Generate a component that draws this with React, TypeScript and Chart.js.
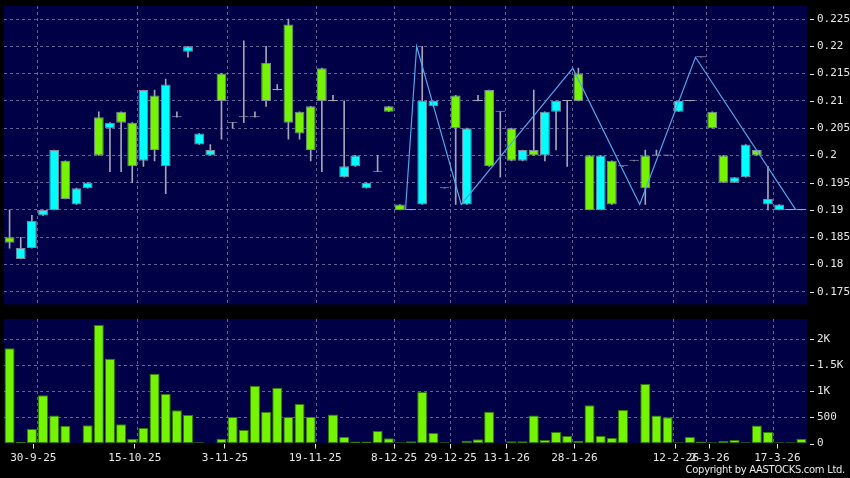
import React, { useEffect, useRef } from 'react';
import { Chart, registerables } from 'chart.js';
Chart.register(...registerables);

// ---- data ----
const openP = [
  0.184, 0.183, 0.188, 0.19, 0.201, 0.192, 0.194, 0.195, 0.2, 0.206,
  0.206, 0.198, 0.212, 0.201, 0.213, 0.207, 0.22, 0.204, 0.201, 0.21,
  0.206, 0.207, 0.207, 0.21, 0.212, 0.206, 0.204, 0.201, 0.21, 0.21,
  0.198, 0.2, 0.195, 0.197, 0.208, 0.19, 0.19, 0.21, 0.21, 0.194,
  0.205, 0.205, 0.21, 0.198, 0.208, 0.199, 0.201, 0.2, 0.208, 0.21,
  0.21, 0.21, 0.19, 0.2, 0.191, 0.198, 0.199, 0.194, 0.2, 0.2,
  0.21, 0.21, 0.218, 0.205, 0.195, 0.196, 0.202, 0.2, 0.192, 0.191,
  0.19, 0.19,
];
const closeP = [
  0.185, 0.181, 0.183, 0.189, 0.19, 0.199, 0.191, 0.194, 0.207, 0.205,
  0.208, 0.206, 0.199, 0.211, 0.198, 0.207, 0.219, 0.202, 0.2, 0.215,
  0.206, 0.207, 0.207, 0.217, 0.212, 0.224, 0.208, 0.209, 0.216, 0.21,
  0.196, 0.198, 0.194, 0.197, 0.209, 0.191, 0.19, 0.191, 0.209, 0.194,
  0.211, 0.191, 0.21, 0.212, 0.208, 0.205, 0.199, 0.201, 0.2, 0.208,
  0.21, 0.215, 0.2, 0.19, 0.199, 0.198, 0.199, 0.2, 0.2, 0.2,
  0.208, 0.21, 0.218, 0.208, 0.2, 0.195, 0.196, 0.201, 0.191, 0.19,
  0.19, 0.19,
];
const highP = [
  0.19, 0.185, 0.189, 0.19, 0.201, 0.199, 0.194, 0.195, 0.208, 0.206,
  0.208, 0.206, 0.212, 0.212, 0.214, 0.208, 0.22, 0.204, 0.202, 0.215,
  0.206, 0.221, 0.208, 0.22, 0.213, 0.225, 0.208, 0.209, 0.216, 0.211,
  0.21, 0.2, 0.195, 0.2, 0.209, 0.191, 0.19, 0.22, 0.21, 0.194,
  0.211, 0.205, 0.211, 0.212, 0.208, 0.205, 0.201, 0.212, 0.208, 0.21,
  0.21, 0.216, 0.2, 0.2, 0.199, 0.198, 0.199, 0.201, 0.201, 0.2,
  0.21, 0.21, 0.218, 0.208, 0.2, 0.196, 0.202, 0.201, 0.198, 0.191,
  0.19, 0.19,
];
const lowP = [
  0.183, 0.181, 0.183, 0.189, 0.19, 0.192, 0.191, 0.194, 0.2, 0.197,
  0.197, 0.195, 0.198, 0.199, 0.193, 0.207, 0.218, 0.202, 0.2, 0.203,
  0.205, 0.206, 0.207, 0.209, 0.212, 0.203, 0.203, 0.199, 0.197, 0.21,
  0.196, 0.198, 0.194, 0.197, 0.208, 0.19, 0.19, 0.191, 0.209, 0.194,
  0.191, 0.191, 0.21, 0.198, 0.196, 0.199, 0.199, 0.2, 0.199, 0.201,
  0.198, 0.21, 0.19, 0.19, 0.191, 0.198, 0.199, 0.191, 0.2, 0.2,
  0.208, 0.21, 0.218, 0.205, 0.195, 0.195, 0.196, 0.2, 0.19, 0.19,
  0.19, 0.19,
];
const volume = [
  1830, 30, 280, 930, 540, 340, 0, 350, 2280, 1630,
  370, 90, 300, 1340, 950, 640, 550, 25, 0, 90,
  510, 260, 1110, 610, 1070, 510, 760, 515, 0, 560,
  130, 40, 40, 240, 100, 25, 45, 990, 200, 25,
  0, 55, 80, 610, 0, 45, 45, 540, 65, 220,
  145, 55, 735, 145, 105, 645, 0, 1145, 540, 505,
  25, 125, 40, 25, 50, 65, 25, 345, 220, 25,
  25, 90,
];
const zigzagIdx = [36, 37, 41, 51, 57, 62, 71];
const zigzagVal = [0.19, 0.22, 0.191, 0.216, 0.191, 0.218, 0.19];
const xTickIdx = [3, 12, 20, 28, 35, 40, 45, 51, 60, 63, 69];
const xTickLabels = ['30-9-25', '15-10-25', '3-11-25', '19-11-25', '8-12-25', '29-12-25', '13-1-26', '28-1-26', '12-2-26', '2-3-26', '17-3-26'];
const priceTicks = [0.175, 0.18, 0.185, 0.19, 0.195, 0.2, 0.205, 0.21, 0.215, 0.22, 0.225];
const volTicks = [0, 500, 1000, 1500, 2000];
const volTickLabels = ['0', '500', '1K', '1.5K', '2K'];

// ---- styles ----
const GREEN = '#74f400';
const CYAN = '#00ffff';
const DOJI = '#a4a4b8';
const BODY_BORDER = '#7d8c9a';
const NAVY = '#000046';
const GRID = 'rgba(125,125,180,0.75)';
const LINE = '#4ea6e6';
const TEXT = '#e6e6e6';
const FONT = { family: "'DejaVu Sans Mono', monospace", size: 11, lineHeight: 1 };

const N = closeP.length;
const idx = closeP.map((_, i) => i);
const edge = (i: number) => i - 0.5;

const panelBg = {
  id: 'panelBg',
  beforeDraw(chart: any) {
    const { ctx, chartArea: a } = chart;
    ctx.save();
    ctx.fillStyle = NAVY;
    ctx.fillRect(a.left, a.top, a.right - a.left, a.bottom - a.top);
    ctx.restore();
  },
};
const rightTicks = {
  id: 'rightTicks',
  afterDraw(chart: any) {
    const s = chart.scales.y;
    const { ctx, chartArea: a } = chart;
    ctx.save();
    ctx.strokeStyle = TEXT;
    ctx.lineWidth = 1;
    s.ticks.forEach((t: any) => {
      const y = Math.round(s.getPixelForValue(t.value)) + 0.5;
      ctx.beginPath();
      ctx.moveTo(a.right + 3, y);
      ctx.lineTo(a.right + 7, y);
      ctx.stroke();
    });
    ctx.restore();
  },
};

const gridX = () => ({
  type: 'linear',
  offset: false,
  min: -0.5,
  max: N - 0.5,
  afterBuildTicks: (s: any) => { s.ticks = xTickIdx.map((i) => ({ value: edge(i) })); },
  afterFit: (s: any) => { s.height = 0; },
  grid: { color: GRID, lineWidth: 1, drawTicks: false, offset: false },
  border: { display: false, dash: [3, 3] },
  ticks: { display: false },
});

const rightAxis = (min: number, max: number, values: number[], label: (v: number, i: number) => string, gridColor: any) => ({
  position: 'right',
  min,
  max,
  afterBuildTicks: (s: any) => { s.ticks = values.map((v) => ({ value: v })); },
  afterFit: (s: any) => { s.width = 43; },
  grid: { color: gridColor, drawTicks: true, tickLength: 10, tickColor: 'rgba(0,0,0,0)' },
  border: { display: false, dash: [3, 3] },
  ticks: { color: TEXT, font: FONT, padding: 0, callback: (v: any, i: number) => label(v, i) },
});

export default function App() {
  const priceRef = useRef<HTMLCanvasElement>(null);
  const volRef = useRef<HTMLCanvasElement>(null);

  useEffect(() => {
    const bodyColors = idx.map((i) => (closeP[i] > openP[i] ? GREEN : closeP[i] < openP[i] ? CYAN : DOJI));
    const bodyBorders = idx.map((i) => (closeP[i] === openP[i] ? DOJI : BODY_BORDER));

    const price = new Chart(priceRef.current as HTMLCanvasElement, {
      type: 'bar',
      data: {
        datasets: [
          {
            type: 'line',
            data: zigzagIdx.map((i, k) => ({ x: edge(i), y: zigzagVal[k] })),
            borderColor: LINE,
            borderWidth: 1.2,
            pointRadius: 0,
            tension: 0,
            order: 0,
            xAxisID: 'x',
            yAxisID: 'y',
          },
          {
            type: 'bar',
            data: idx.map((i) => ({ x: i, y: [openP[i], closeP[i]] })),
            backgroundColor: bodyColors,
            borderColor: bodyBorders,
            borderWidth: 1,
            borderSkipped: false,
            minBarLength: 1,
            grouped: false,
            barPercentage: 0.88,
            categoryPercentage: 1,
            order: 1,
            xAxisID: 'x',
            yAxisID: 'y',
          },
          {
            type: 'bar',
            data: idx.map((i) => ({ x: i, y: [lowP[i], highP[i]] })),
            backgroundColor: DOJI,
            borderWidth: 0,
            barThickness: 1,
            grouped: false,
            order: 2,
            xAxisID: 'x',
            yAxisID: 'y',
          },
        ] as any,
      },
      options: {
        animation: false,
        responsive: false,
        events: [],
        layout: { padding: { left: 4, top: 6, bottom: 5, right: 0 } },
        plugins: { legend: { display: false }, tooltip: { enabled: false } },
        scales: {
          x: gridX() as any,
          y: rightAxis(0.17266, 0.2274, priceTicks, (v) => String(+Number(v).toFixed(3)), GRID) as any,
        },
      },
      plugins: [panelBg, rightTicks],
    });

    const vol = new Chart(volRef.current as HTMLCanvasElement, {
      type: 'bar',
      data: {
        datasets: [
          {
            data: idx.map((i) => ({ x: i, y: volume[i] })),
            backgroundColor: GREEN,
            borderColor: '#2f7d00',
            borderWidth: 1,
            borderSkipped: false,
            barPercentage: 0.9,
            categoryPercentage: 1,
            xAxisID: 'x',
            yAxisID: 'y',
          },
        ] as any,
      },
      options: {
        animation: false,
        responsive: false,
        events: [],
        layout: { padding: { left: 4, top: 9, bottom: 13.5, right: 0 } },
        plugins: { legend: { display: false }, tooltip: { enabled: false } },
        scales: {
          x: gridX() as any,
          xl: {
            type: 'linear',
            position: 'bottom',
            offset: false,
            min: -0.1,
            max: 71.13,
            afterBuildTicks: (s: any) => { s.ticks = xTickIdx.map((i) => ({ value: edge(i) })); },
            afterFit: (s: any) => { s.height = 21; },
            grid: { drawOnChartArea: false, drawTicks: true, tickLength: 5, tickColor: TEXT, offset: false },
            border: { display: false },
            ticks: {
              color: TEXT,
              font: { ...FONT, lineHeight: 1.2 },
              padding: 3,
              maxRotation: 0,
              autoSkip: false,
              callback: (_v: any, i: number) => xTickLabels[i],
            },
          } as any,
          y: rightAxis(0, 2394, volTicks, (_v, i) => volTickLabels[i],
            (c: any) => (c.tick && c.tick.value === 0 ? 'rgba(0,0,0,0)' : GRID)) as any,
        },
      },
      plugins: [panelBg, rightTicks],
    });

    return () => {
      price.destroy();
      vol.destroy();
    };
  }, []);

  return (
    <div style={{ position: 'fixed', left: 0, top: 0, width: 850, height: 478, background: '#000', overflow: 'hidden' }}>
      <canvas ref={priceRef} width={850} height={310} style={{ position: 'absolute', left: 0, top: 0 }} />
      <canvas ref={volRef} width={850} height={168} style={{ position: 'absolute', left: 0, top: 310 }} />
      <div
        style={{
          position: 'absolute',
          right: 5,
          top: 464,
          color: '#e8e8e8',
          font: '10px "DejaVu Sans", sans-serif',
          lineHeight: '12px',
          letterSpacing: '-0.3px',
          whiteSpace: 'nowrap',
        }}
      >
        Copyright by AASTOCKS.com Ltd.
      </div>
    </div>
  );
}
